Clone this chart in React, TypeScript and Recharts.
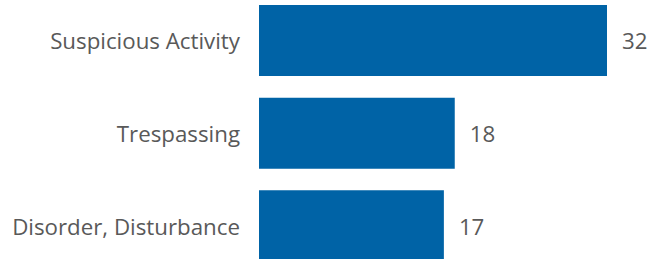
import { BarChart, Bar, XAxis, YAxis, LabelList } from "recharts";

const categories = ["Suspicious Activity", "Trespassing", "Disorder, Disturbance"];
const counts = [32, 18, 17];

const data = categories.map((name, i) => ({ name, count: counts[i] }));

const FONT = "'Open Sans', 'Segoe UI', sans-serif";
const GREY = "#595959";

export default function App() {
  return (
    <div style={{ position: "absolute", left: 0, top: 0, width: 666, height: 259, overflow: "hidden", background: "#fff" }}>
      <div style={{ position: "absolute", left: 0, top: -6 }}>
        <BarChart width={666} height={278} data={data} layout="vertical"
          margin={{ top: 0, right: 59, bottom: 0, left: 0 }}>
          <XAxis type="number" domain={[0, 32]} hide />
          <YAxis type="category" dataKey="name" width={259} axisLine={false} tickLine={false}
            tickSize={0} tickMargin={19}
            tick={{ fontSize: 22.3, fill: GREY, fontFamily: FONT, dy: 1 }} />
          <Bar dataKey="count" fill="#0063A6" barSize={71} isAnimationActive={false}>
            <LabelList dataKey="count" position="right" offset={15} dy={1}
              style={{ fontSize: 22.3, fill: GREY, fontFamily: FONT }} />
          </Bar>
        </BarChart>
      </div>
    </div>
  );
}
